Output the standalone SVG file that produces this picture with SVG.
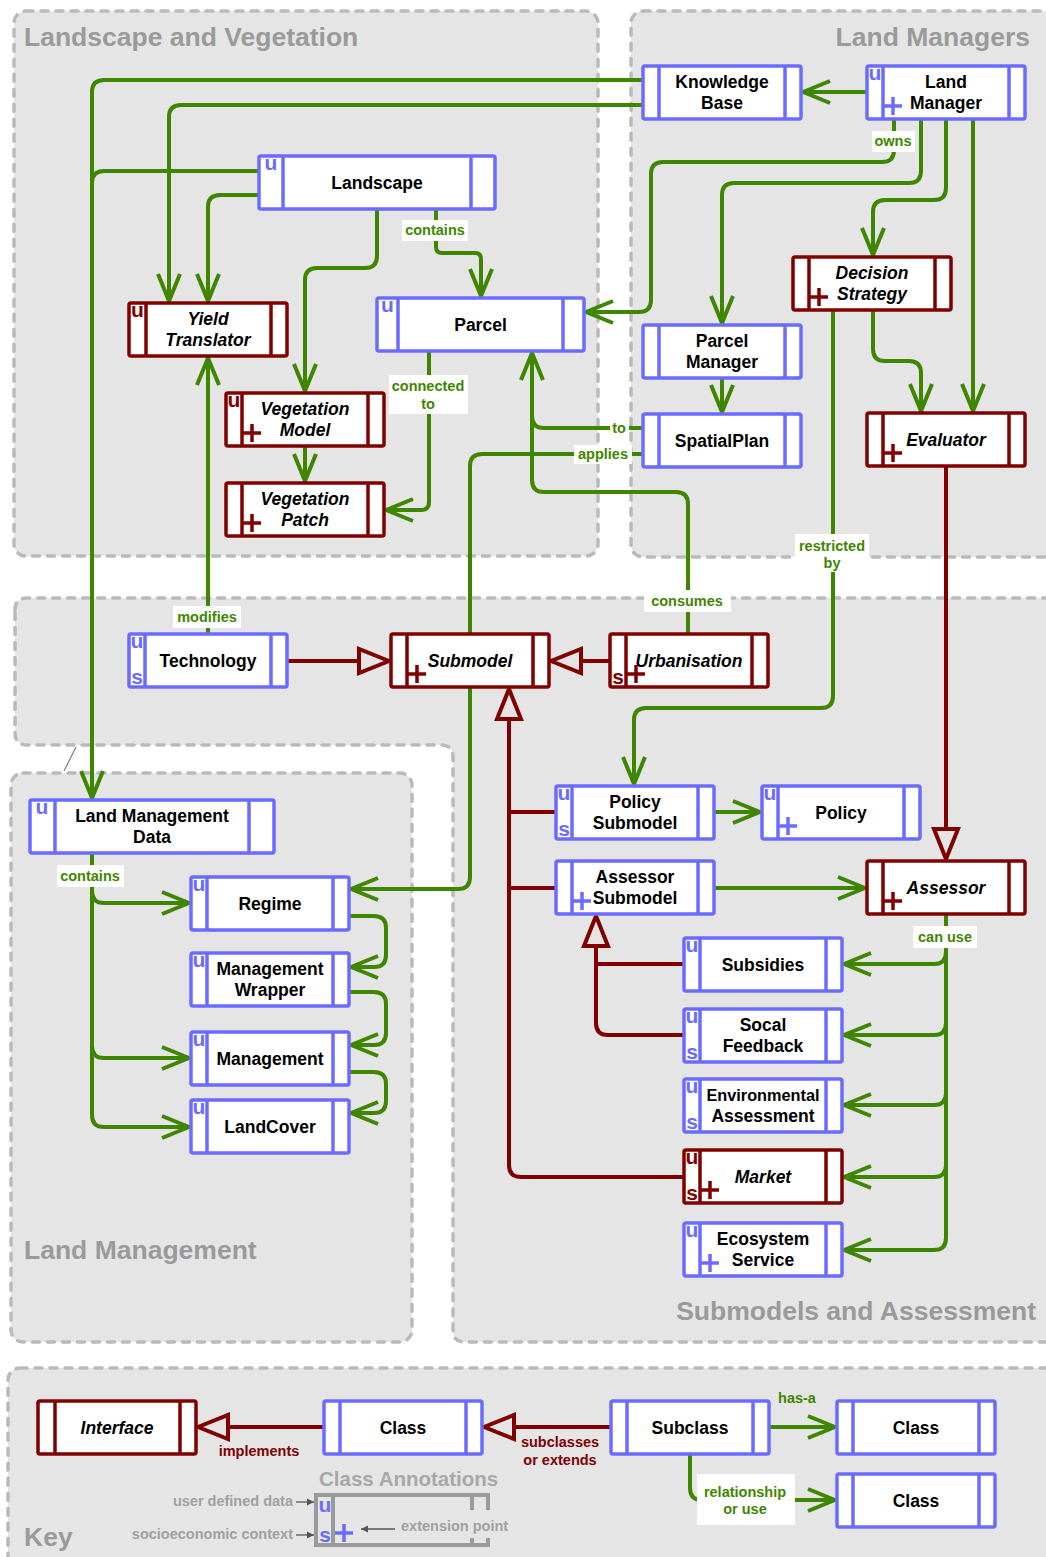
<svg xmlns="http://www.w3.org/2000/svg" width="1046" height="1557" viewBox="0 0 1046 1557">
<defs>
<style>
.grp{fill:#e5e5e5;stroke:#bababa;stroke-width:3.5;stroke-dasharray:7 8;stroke-linecap:round}
.gt{font:bold 26.5px "Liberation Sans",Arial,sans-serif;fill:#9a9a9a}
.node rect{fill:#fff;stroke-width:3.5}
.node line{stroke-width:3.5}
.blue rect,.blue line,.blue .plus{stroke:#6b6bff}
.red rect,.red line,.red .plus{stroke:#800000}
.mk{font:bold 21px "Liberation Sans",Arial,sans-serif;text-anchor:middle}
.blue .mk{fill:#6b6bff}
.red .mk{fill:#800000}
.plus{fill:none;stroke-width:3.5}
.nt{font:bold 17.5px "Liberation Sans",Arial,sans-serif;fill:#000;text-anchor:middle}
.it{font-style:italic}
.g{fill:none;stroke:#3f8600;stroke-width:4;stroke-linejoin:round}
.ga{marker-end:url(#open)}
.r{fill:none;stroke:#800000;stroke-width:4;stroke-linejoin:round}
.ra{marker-end:url(#tri)}
.lbl{font:bold 14.5px "Liberation Sans",Arial,sans-serif;fill:#3f8600;text-anchor:middle}
.rl{fill:#800000}
.bg{fill:#fff}
.note{font:bold 14.5px "Liberation Sans",Arial,sans-serif;fill:#a0a0a0}
</style>
<marker id="open" markerUnits="userSpaceOnUse" viewBox="-32 -16 36 32" markerWidth="36" markerHeight="32" refX="0" refY="0" orient="auto">
<path d="M-27,-11 L0,0 L-27,11" fill="none" stroke="#3f8600" stroke-width="4" stroke-linejoin="round"/>
</marker>
<marker id="tri" markerUnits="userSpaceOnUse" viewBox="-34 -16 38 32" markerWidth="38" markerHeight="32" refX="0" refY="0" orient="auto">
<path d="M0,0 L-30,-12 L-30,12 Z" fill="#e5e5e5" stroke="#800000" stroke-width="4" stroke-linejoin="miter"/>
</marker>
<marker id="tiny" markerUnits="userSpaceOnUse" viewBox="-8 -5 9 10" markerWidth="9" markerHeight="10" refX="0" refY="0" orient="auto">
<path d="M0,0 L-7,-3.5 L-7,3.5 Z" fill="#555"/>
</marker>
</defs>

<!-- package areas -->
<g id="areas">
<rect class="grp" x="14" y="11" width="584" height="545" rx="12"/>
<rect class="grp" x="631" y="11" width="440" height="546" rx="12"/>
<path class="grp" d="M15,610 Q15,598 27,598 H1070 V1342 H465 Q453,1342 453,1330 V757 Q453,745 441,745 H27 Q15,745 15,733 Z"/>
<rect class="grp" x="11" y="773" width="401" height="569" rx="12"/>
<rect class="grp" x="8" y="1368" width="1070" height="210" rx="12"/>
<line x1="64" y1="771" x2="76" y2="747" stroke="#555" stroke-width="1"/>
<text class="gt" x="24" y="46">Landscape and Vegetation</text>
<text class="gt" x="1030" y="46" text-anchor="end">Land Managers</text>
<text class="gt" x="24" y="1259">Land Management</text>
<text class="gt" x="1036" y="1320" text-anchor="end">Submodels and Assessment</text>
<text class="gt" x="24" y="1546">Key</text>
</g>

<!-- connectors -->
<g id="connectors">
<path class="g ga" d="M867,92 H803"/>
<path class="g ga" d="M643,80 H104 Q92,80 92,92 V798"/>
<path class="g" d="M259,171 H104 Q92,171 92,183"/>
<path class="g ga" d="M643,105 H181 Q169,105 169,117 V301"/>
<path class="g ga" d="M259,195 H220 Q208,195 208,207 V301"/>
<path class="g ga" d="M377,209 V256 Q377,268 365,268 H317 Q305,268 305,280 V391"/>
<path class="g ga" d="M305,446 V481"/>
<path class="g ga" d="M436,209 V247 Q436,253 442,253 H475 Q481,253 481,259 V296"/>
<path class="g ga" d="M429,351 V502 Q429,510 421,510 H386"/>
<path class="g ga" d="M894,119 V150 Q894,162 882,162 H663 Q651,162 651,174 V300 Q651,312 639,312 H586"/>
<path class="g ga" d="M921,119 V171 Q921,183 909,183 H734 Q722,183 722,195 V323"/>
<path class="g ga" d="M946,119 V188 Q946,200 934,200 H885 Q873,200 873,212 V255"/>
<path class="g ga" d="M973,119 V411"/>
<path class="g ga" d="M873,310 V349 Q873,361 885,361 H909 Q921,361 921,373 V411"/>
<path class="g ga" d="M722,378 V412"/>
<path class="g ga" d="M833,310 V696 Q833,708 821,708 H646 Q634,708 634,720 V784"/>
<path class="g ga" d="M643,428 H544 Q532,428 532,416 V353"/>
<path class="g" d="M688,634 V504 Q688,492 676,492 H544 Q532,492 532,480 V416"/>
<path class="g ga" d="M643,454 H482 Q470,454 470,466 V877 Q470,889 458,889 H351"/>
<path class="g ga" d="M208,634 V358"/>
<path class="g ga" d="M92,853 V1115 Q92,1127 104,1127 H189"/>
<path class="g ga" d="M92,891 Q92,903 104,903 H189"/>
<path class="g ga" d="M92,1046 Q92,1058 104,1058 H189"/>
<path class="g ga" d="M349,916 H374 Q386,916 386,928 V955 Q386,967 374,967 H351"/>
<path class="g ga" d="M349,992 H374 Q386,992 386,1004 V1033 Q386,1045 374,1045 H351"/>
<path class="g ga" d="M349,1072 H374 Q386,1072 386,1084 V1101 Q386,1113 374,1113 H351"/>
<path class="g ga" d="M714,812 H760"/>
<path class="g ga" d="M714,888 H865"/>
<path class="g ga" d="M946,914 V1238 Q946,1250 934,1250 H844"/>
<path class="g ga" d="M946,952 Q946,964 934,964 H844"/>
<path class="g ga" d="M946,1023 Q946,1035 934,1035 H844"/>
<path class="g ga" d="M946,1093 Q946,1105 934,1105 H844"/>
<path class="g ga" d="M946,1165 Q946,1177 934,1177 H844"/>

<path class="r ra" d="M287,661 H389"/>
<path class="r ra" d="M610,661 H551"/>
<path class="r ra" d="M946,466 V859"/>
<path class="r" d="M556,812 H509"/>
<path class="r" d="M556,888 H509"/>
<path class="r ra" d="M684,1177 H521 Q509,1177 509,1165 V689"/>
<path class="r" d="M684,964 H596"/>
<path class="r ra" d="M684,1035 H608 Q596,1035 596,1023 V916"/>

<path class="r ra" d="M324,1427 H198"/>
<path class="r ra" d="M611,1427 H484"/>
<path class="g ga" d="M769,1427 H835"/>
<path class="g ga" d="M690,1454 V1488 Q690,1500 702,1500 H835"/>
</g>

<!-- connector labels -->
<g id="labels">
<rect class="bg" x="402" y="220" width="66" height="21"/><text class="lbl" x="435" y="235">contains</text>
<rect class="bg" x="872" y="131" width="43" height="21"/><text class="lbl" x="893" y="146">owns</text>
<rect class="bg" x="389" y="375" width="79" height="39"/><text class="lbl" x="428" y="391">connected</text><text class="lbl" x="428" y="409">to</text>
<rect class="bg" x="610" y="420" width="19" height="17"/><text class="lbl" x="619" y="433">to</text>
<rect class="bg" x="574" y="445" width="58" height="19"/><text class="lbl" x="603" y="459">applies</text>
<rect class="bg" x="795" y="534" width="74" height="38"/><text class="lbl" x="832" y="551">restricted</text><text class="lbl" x="832" y="568">by</text>
<rect class="bg" x="644" y="590" width="87" height="22"/><text class="lbl" x="687" y="606">consumes</text>
<rect class="bg" x="173" y="606" width="68" height="22"/><text class="lbl" x="207" y="622">modifies</text>
<rect class="bg" x="57" y="865" width="67" height="22"/><text class="lbl" x="90" y="881">contains</text>
<rect class="bg" x="913" y="926" width="64" height="22"/><text class="lbl" x="945" y="942">can use</text>
<text class="lbl rl" x="259" y="1456">implements</text>
<text class="lbl rl" x="560" y="1447">subclasses</text><text class="lbl rl" x="560" y="1465">or extends</text>
<text class="lbl" x="797" y="1403">has-a</text>
<rect class="bg" x="697" y="1474" width="98" height="51"/><text class="lbl" x="745" y="1497">relationship</text><text class="lbl" x="745" y="1514">or use</text>
</g>

<!-- classes and interfaces -->
<g id="knowledge-base" class="node blue"><rect x="643" y="66" width="158" height="53" rx="2"/><line x1="659" y1="66" x2="659" y2="119"/><line x1="785" y1="66" x2="785" y2="119"/><text class="nt" x="722" y="88">Knowledge</text><text class="nt" x="722" y="108.5">Base</text></g>

<g id="land-manager" class="node blue"><rect x="867" y="66" width="158" height="53" rx="2"/><line x1="883" y1="66" x2="883" y2="119"/><line x1="1009" y1="66" x2="1009" y2="119"/><text class="mk" x="875" y="80">u</text><path class="plus" d="M884,106 h18 M893,97 v18"/><text class="nt" x="946" y="88">Land</text><text class="nt" x="946" y="108.5">Manager</text></g>

<g id="landscape" class="node blue"><rect x="259" y="156" width="236" height="53" rx="2"/><line x1="283" y1="156" x2="283" y2="209"/><line x1="471" y1="156" x2="471" y2="209"/><text class="mk" x="271" y="170">u</text><text class="nt" x="377" y="188.5">Landscape</text></g>

<g id="yield-translator" class="node red"><rect x="129" y="303" width="158" height="53" rx="2"/><line x1="146" y1="303" x2="146" y2="356"/><line x1="271" y1="303" x2="271" y2="356"/><text class="mk" x="137.5" y="317">u</text><text class="nt it" x="208" y="325">Yield</text><text class="nt it" x="208" y="345.5">Translator</text></g>

<g id="parcel" class="node blue"><rect x="377" y="298" width="207" height="53" rx="2"/><line x1="398" y1="298" x2="398" y2="351"/><line x1="563" y1="298" x2="563" y2="351"/><text class="mk" x="387.5" y="312">u</text><text class="nt" x="480.5" y="330.5">Parcel</text></g>

<g id="vegetation-model" class="node red"><rect x="226" y="393" width="158" height="53" rx="2"/><line x1="242" y1="393" x2="242" y2="446"/><line x1="368" y1="393" x2="368" y2="446"/><text class="mk" x="234" y="407">u</text><path class="plus" d="M243,433 h18 M252,424 v18"/><text class="nt it" x="305" y="415">Vegetation</text><text class="nt it" x="305" y="435.5">Model</text></g>

<g id="vegetation-patch" class="node red"><rect x="226" y="483" width="158" height="53" rx="2"/><line x1="242" y1="483" x2="242" y2="536"/><line x1="368" y1="483" x2="368" y2="536"/><path class="plus" d="M243,523 h18 M252,514 v18"/><text class="nt it" x="305" y="505">Vegetation</text><text class="nt it" x="305" y="525.5">Patch</text></g>

<g id="decision-strategy" class="node red"><rect x="793" y="257" width="158" height="53" rx="2"/><line x1="809" y1="257" x2="809" y2="310"/><line x1="935" y1="257" x2="935" y2="310"/><path class="plus" d="M810,297 h18 M819,288 v18"/><text class="nt it" x="872" y="279">Decision</text><text class="nt it" x="872" y="299.5">Strategy</text></g>

<g id="parcel-manager" class="node blue"><rect x="643" y="325" width="158" height="53" rx="2"/><line x1="659" y1="325" x2="659" y2="378"/><line x1="785" y1="325" x2="785" y2="378"/><text class="nt" x="722" y="347">Parcel</text><text class="nt" x="722" y="367.5">Manager</text></g>

<g id="spatial-plan" class="node blue"><rect x="643" y="414" width="158" height="53" rx="2"/><line x1="659" y1="414" x2="659" y2="467"/><line x1="785" y1="414" x2="785" y2="467"/><text class="nt" x="722" y="446.5">SpatialPlan</text></g>

<g id="evaluator" class="node red"><rect x="867" y="413" width="158" height="53" rx="2"/><line x1="883" y1="413" x2="883" y2="466"/><line x1="1009" y1="413" x2="1009" y2="466"/><path class="plus" d="M884,453 h18 M893,444 v18"/><text class="nt it" x="946" y="445.5">Evaluator</text></g>

<g id="technology" class="node blue"><rect x="129" y="634" width="158" height="53" rx="2"/><line x1="145" y1="634" x2="145" y2="687"/><line x1="271" y1="634" x2="271" y2="687"/><text class="mk" x="137" y="648">u</text><text class="mk" x="137" y="684">s</text><text class="nt" x="208" y="666.5">Technology</text></g>

<g id="submodel" class="node red"><rect x="391" y="634" width="158" height="53" rx="2"/><line x1="407" y1="634" x2="407" y2="687"/><line x1="533" y1="634" x2="533" y2="687"/><path class="plus" d="M408,674 h18 M417,665 v18"/><text class="nt it" x="470" y="666.5">Submodel</text></g>

<g id="urbanisation" class="node red"><rect x="610" y="634" width="158" height="53" rx="2"/><line x1="626" y1="634" x2="626" y2="687"/><line x1="752" y1="634" x2="752" y2="687"/><text class="mk" x="618" y="684">s</text><path class="plus" d="M627,674 h18 M636,665 v18"/><text class="nt it" x="689" y="666.5">Urbanisation</text></g>

<g id="land-management-data" class="node blue"><rect x="30" y="800" width="244" height="53" rx="2"/><line x1="55" y1="800" x2="55" y2="853"/><line x1="249" y1="800" x2="249" y2="853"/><text class="mk" x="42" y="814">u</text><text class="nt" x="152" y="822">Land Management</text><text class="nt" x="152" y="842.5">Data</text></g>

<g id="regime" class="node blue"><rect x="191" y="877" width="158" height="53" rx="2"/><line x1="207" y1="877" x2="207" y2="930"/><line x1="333" y1="877" x2="333" y2="930"/><text class="mk" x="199" y="891">u</text><text class="nt" x="270" y="909.5">Regime</text></g>

<g id="management-wrapper" class="node blue"><rect x="191" y="953" width="158" height="53" rx="2"/><line x1="207" y1="953" x2="207" y2="1006"/><line x1="333" y1="953" x2="333" y2="1006"/><text class="mk" x="199" y="967">u</text><text class="nt" x="270" y="975">Management</text><text class="nt" x="270" y="995.5">Wrapper</text></g>

<g id="management" class="node blue"><rect x="191" y="1032" width="158" height="53" rx="2"/><line x1="207" y1="1032" x2="207" y2="1085"/><line x1="333" y1="1032" x2="333" y2="1085"/><text class="mk" x="199" y="1046">u</text><text class="nt" x="270" y="1064.5">Management</text></g>

<g id="land-cover" class="node blue"><rect x="191" y="1100" width="158" height="53" rx="2"/><line x1="207" y1="1100" x2="207" y2="1153"/><line x1="333" y1="1100" x2="333" y2="1153"/><text class="mk" x="199" y="1114">u</text><text class="nt" x="270" y="1132.5">LandCover</text></g>

<g id="policy-submodel" class="node blue"><rect x="556" y="786" width="158" height="53" rx="2"/><line x1="572" y1="786" x2="572" y2="839"/><line x1="698" y1="786" x2="698" y2="839"/><text class="mk" x="564" y="800">u</text><text class="mk" x="564" y="836">s</text><text class="nt" x="635" y="808">Policy</text><text class="nt" x="635" y="828.5">Submodel</text></g>

<g id="policy" class="node blue"><rect x="762" y="786" width="158" height="53" rx="2"/><line x1="778" y1="786" x2="778" y2="839"/><line x1="904" y1="786" x2="904" y2="839"/><text class="mk" x="770" y="800">u</text><path class="plus" d="M779,826 h18 M788,817 v18"/><text class="nt" x="841" y="818.5">Policy</text></g>

<g id="assessor-submodel" class="node blue"><rect x="556" y="861" width="158" height="53" rx="2"/><line x1="572" y1="861" x2="572" y2="914"/><line x1="698" y1="861" x2="698" y2="914"/><path class="plus" d="M573,901 h18 M582,892 v18"/><text class="nt" x="635" y="883">Assessor</text><text class="nt" x="635" y="903.5">Submodel</text></g>

<g id="assessor" class="node red"><rect x="867" y="861" width="158" height="53" rx="2"/><line x1="883" y1="861" x2="883" y2="914"/><line x1="1009" y1="861" x2="1009" y2="914"/><path class="plus" d="M884,901 h18 M893,892 v18"/><text class="nt it" x="946" y="893.5">Assessor</text></g>

<g id="subsidies" class="node blue"><rect x="684" y="938" width="158" height="53" rx="2"/><line x1="700" y1="938" x2="700" y2="991"/><line x1="826" y1="938" x2="826" y2="991"/><text class="mk" x="692" y="952">u</text><text class="nt" x="763" y="970.5">Subsidies</text></g>

<g id="socal-feedback" class="node blue"><rect x="684" y="1009" width="158" height="53" rx="2"/><line x1="700" y1="1009" x2="700" y2="1062"/><line x1="826" y1="1009" x2="826" y2="1062"/><text class="mk" x="692" y="1023">u</text><text class="mk" x="692" y="1059">s</text><text class="nt" x="763" y="1031">Socal</text><text class="nt" x="763" y="1051.5">Feedback</text></g>

<g id="environmental-assessment" class="node blue"><rect x="684" y="1079" width="158" height="53" rx="2"/><line x1="700" y1="1079" x2="700" y2="1132"/><line x1="826" y1="1079" x2="826" y2="1132"/><text class="mk" x="692" y="1093">u</text><text class="mk" x="692" y="1129">s</text><text class="nt" x="763" y="1101" style="font-size:16.3px">Environmental</text><text class="nt" x="763" y="1121.5">Assessment</text></g>

<g id="market" class="node red"><rect x="684" y="1150" width="158" height="53" rx="2"/><line x1="700" y1="1150" x2="700" y2="1203"/><line x1="826" y1="1150" x2="826" y2="1203"/><text class="mk" x="692" y="1164">u</text><text class="mk" x="692" y="1200">s</text><path class="plus" d="M701,1190 h18 M710,1181 v18"/><text class="nt it" x="763" y="1182.5">Market</text></g>

<g id="ecosystem-service" class="node blue"><rect x="684" y="1223" width="158" height="53" rx="2"/><line x1="700" y1="1223" x2="700" y2="1276"/><line x1="826" y1="1223" x2="826" y2="1276"/><text class="mk" x="692" y="1237">u</text><path class="plus" d="M701,1263 h18 M710,1254 v18"/><text class="nt" x="763" y="1245">Ecosystem</text><text class="nt" x="763" y="1265.5">Service</text></g>

<!-- key -->
<g id="key-interface" class="node red"><rect x="38" y="1401" width="158" height="53" rx="2"/><line x1="55" y1="1401" x2="55" y2="1454"/><line x1="180" y1="1401" x2="180" y2="1454"/><text class="nt it" x="117" y="1433.5">Interface</text></g>

<g id="key-class" class="node blue"><rect x="324" y="1401" width="158" height="53" rx="2"/><line x1="340" y1="1401" x2="340" y2="1454"/><line x1="466" y1="1401" x2="466" y2="1454"/><text class="nt" x="403" y="1433.5">Class</text></g>

<g id="key-subclass" class="node blue"><rect x="611" y="1401" width="158" height="53" rx="2"/><line x1="627" y1="1401" x2="627" y2="1454"/><line x1="753" y1="1401" x2="753" y2="1454"/><text class="nt" x="690" y="1433.5">Subclass</text></g>

<g id="key-class-has" class="node blue"><rect x="837" y="1401" width="158" height="53" rx="2"/><line x1="853" y1="1401" x2="853" y2="1454"/><line x1="979" y1="1401" x2="979" y2="1454"/><text class="nt" x="916" y="1433.5">Class</text></g>

<g id="key-class-use" class="node blue"><rect x="837" y="1474" width="158" height="53" rx="2"/><line x1="853" y1="1474" x2="853" y2="1527"/><line x1="979" y1="1474" x2="979" y2="1527"/><text class="nt" x="916" y="1506.5">Class</text></g>

<g id="key-annotations">
<text x="319" y="1486" style="font:bold 20.5px 'Liberation Sans',Arial,sans-serif;fill:#a8a8a8">Class Annotations</text>
<rect x="316" y="1495" width="172" height="50" fill="none" stroke="#9a9a9a" stroke-width="4"/>
<line x1="333" y1="1495" x2="333" y2="1545" stroke="#9a9a9a" stroke-width="4"/>
<line x1="472" y1="1495" x2="472" y2="1545" stroke="#9a9a9a" stroke-width="4"/>
<rect x="398" y="1510" width="122" height="28" fill="#e5e5e5"/>
<text x="325" y="1512" class="mk" fill="#6b6bff">u</text>
<text x="325" y="1542" class="mk" fill="#6b6bff">s</text>
<path d="M335,1533 h18 M344,1524 v18" fill="none" stroke="#6b6bff" stroke-width="3.5"/>
<text class="note" x="293" y="1506" text-anchor="end">user defined data</text>
<text class="note" x="293" y="1539" text-anchor="end">socioeconomic context</text>
<text class="note" x="401" y="1531">extension point</text>
<path d="M296,1502 H314" stroke="#555" stroke-width="1.3" marker-end="url(#tiny)"/>
<path d="M296,1535 H314" stroke="#555" stroke-width="1.3" marker-end="url(#tiny)"/>
<path d="M395,1529 H361" stroke="#555" stroke-width="1.3" marker-end="url(#tiny)"/>
</g>
</svg>
